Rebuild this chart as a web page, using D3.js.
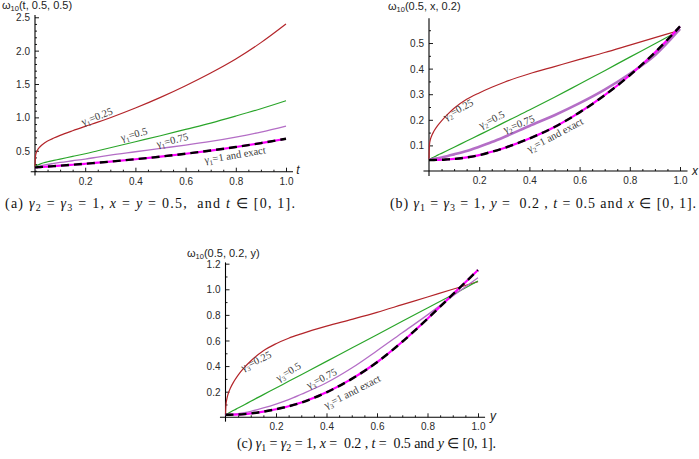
<!DOCTYPE html>
<html><head><meta charset="utf-8">
<script src="https://cdn.jsdelivr.net/npm/d3@7"></script>
<style>body{margin:0;background:#fff}svg{display:block}</style>
</head><body>
<svg id="chart" width="699" height="459"></svg>
<script>
// ---- data ----
const grid = [0, 0.002, 0.005, 0.01, 0.02, 0.035, 0.05, 0.075, 0.1, 0.15, 0.2, 0.25, 0.3, 0.4, 0.5, 0.6, 0.7, 0.8, 0.9, 1.0];

// panel (a): omega10(t, 0.5, 0.5)
const aRed    = [0.25, 0.42, 0.47, 0.51, 0.56, 0.61, 0.645, 0.69, 0.73, 0.80, 0.865, 0.928, 0.995, 1.14, 1.30, 1.475, 1.665, 1.875, 2.12, 2.40];
const aGreen  = [0.25, 0.265, 0.275, 0.285, 0.30, 0.32, 0.335, 0.355, 0.375, 0.415, 0.455, 0.50, 0.545, 0.635, 0.725, 0.82, 0.915, 1.02, 1.13, 1.25];
const aPurple = [0.25, 0.255, 0.26, 0.265, 0.275, 0.285, 0.295, 0.31, 0.325, 0.35, 0.375, 0.405, 0.435, 0.485, 0.535, 0.585, 0.64, 0.705, 0.78, 0.87];
const aExact  = [0.25, 0.2505, 0.251, 0.2525, 0.255, 0.259, 0.263, 0.2695, 0.276, 0.29, 0.305, 0.321, 0.337, 0.373, 0.412, 0.455, 0.503, 0.556, 0.615, 0.68];

// panel (b): omega10(0.5, x, 0.2)
const bRed    = [0.045, 0.104, 0.121, 0.136, 0.156, 0.178, 0.196, 0.222, 0.245, 0.28, 0.305, 0.327, 0.347, 0.38, 0.408, 0.436, 0.463, 0.492, 0.521, 0.55];
const bGreen  = [0.045, 0.046, 0.0475, 0.05, 0.0545, 0.062, 0.069, 0.081, 0.093, 0.117, 0.141, 0.165, 0.19, 0.238, 0.288, 0.34, 0.392, 0.445, 0.497, 0.55];
const bPurple = [0.045, 0.0452, 0.0455, 0.046, 0.048, 0.05, 0.053, 0.059, 0.065, 0.078, 0.095, 0.113, 0.133, 0.176, 0.218, 0.265, 0.318, 0.38, 0.452, 0.555];
const bExact  = [0.043, 0.043, 0.043, 0.043, 0.0432, 0.0436, 0.044, 0.0455, 0.047, 0.053, 0.062, 0.075, 0.09, 0.127, 0.172, 0.229, 0.296, 0.374, 0.463, 0.565];

// panel (c): omega10(0.5, 0.2, y)
const cRed    = [0.02, 0.10, 0.14, 0.18, 0.23, 0.285, 0.33, 0.39, 0.44, 0.52, 0.575, 0.618, 0.652, 0.712, 0.765, 0.82, 0.88, 0.94, 1.0, 1.06];
const cGreen  = [0.02, 0.022, 0.025, 0.03, 0.041, 0.057, 0.072, 0.098, 0.125, 0.177, 0.229, 0.281, 0.333, 0.437, 0.541, 0.645, 0.75, 0.854, 0.958, 1.065];
const cPurple = [0.02, 0.0201, 0.0203, 0.0207, 0.022, 0.025, 0.029, 0.037, 0.047, 0.073, 0.103, 0.138, 0.18, 0.27, 0.385, 0.52, 0.66, 0.8, 0.947, 1.09];
const cExact  = [0.02, 0.02, 0.02, 0.0201, 0.0203, 0.021, 0.022, 0.025, 0.03, 0.044, 0.063, 0.086, 0.115, 0.195, 0.3, 0.43, 0.59, 0.77, 0.96, 1.15];

// tick labels
const xTicks  = [0.2, 0.4, 0.6, 0.8, 1.0];
const aYTicks = [0.5, 1.0, 1.5, 2.0, 2.5];
const bYTicks = [0.1, 0.2, 0.3, 0.4, 0.5];
const cYTicks = [0.2, 0.4, 0.6, 0.8, 1.0, 1.2];

// texts
const aYLabel = ["ω", "10", "(t, 0.5, 0.5)"];
const bYLabel = ["ω", "10", "(0.5, x, 0.2)"];
const cYLabel = ["ω", "10", "(0.5, 0.2, y)"];
const aCurveLabels = [["γ","1","=0.25"],["γ","1","=0.5"],["γ","1","=0.75"],["γ","1","=1 and exact"]];
const bCurveLabels = [["γ","2","=0.25"],["γ","2","=0.5"],["γ","2","=0.75"],["γ","2","=1 and exact"]];
const cCurveLabels = [["γ","3","=0.25"],["γ","3","=0.5"],["γ","3","=0.75"],["γ","3","=1 and exact"]];

// ---- drawing ----
const svg = d3.select("#chart");
const SANS = "Liberation Sans, Arial, sans-serif";
const SERIF = "Liberation Serif, Times New Roman, serif";
const COL = {red: "#b3252a", green: "#2aa52a", purple: "#b46ec6", magenta: "#ff00ff", black: "#000"};

function minorRange(a, b, step, major) {
  return d3.range(Math.round(a / step), Math.round(b / step) + 1)
    .map(k => +(k * step).toFixed(4))
    .filter(v => !major.some(m => Math.abs(m - v) < 1e-6));
}

function panel(p) {
  const g = svg.append("g");
  const x = d3.scaleLinear().domain([0, 1]).range(p.xRange);
  const y = d3.scaleLinear().domain(p.yDomain).range(p.yRange);
  const yc = y(p.yCross), xc = x(0);

  // axis lines
  g.append("line").attr("x1", x(p.xExt[0])).attr("x2", x(p.xExt[1]))
    .attr("y1", yc).attr("y2", yc).attr("stroke", "#000").attr("stroke-width", 1.1);
  g.append("line").attr("x1", xc).attr("x2", xc)
    .attr("y1", y(p.yExt[0])).attr("y2", y(p.yExt[1])).attr("stroke", "#000").attr("stroke-width", 1.1);

  const styleAxis = (sel) => {
    sel.select(".domain").remove();
    sel.selectAll("line").attr("stroke", "#000").attr("stroke-width", 0.9);
    sel.selectAll("text").attr("font-family", SANS).attr("font-size", 10).attr("fill", "#2a2a2a");
  };

  // x axis ticks
  g.append("g").attr("transform", `translate(0,${yc})`)
    .call(d3.axisBottom(x).tickValues(xTicks).tickSize(-4).tickPadding(4.5).tickFormat(d3.format(".1f")))
    .call(styleAxis)
    .call(s => s.selectAll("text").attr("transform", "scale(1,1.12)"));
  g.append("g").attr("transform", `translate(0,${yc})`)
    .call(d3.axisBottom(x).tickValues(minorRange(0.05, 1.0, 0.05, xTicks)).tickSize(-2).tickFormat(""))
    .call(styleAxis);

  // y axis ticks
  g.append("g").attr("transform", `translate(${xc},0)`)
    .call(d3.axisLeft(y).tickValues(p.yTicks).tickSize(-4).tickPadding(5).tickFormat(d3.format(".1f")))
    .call(styleAxis)
    .call(s => s.selectAll("text").attr("transform", "scale(1,1.12)"));
  g.append("g").attr("transform", `translate(${xc},0)`)
    .call(d3.axisLeft(y).tickValues(minorRange(p.yMinor[0], p.yMinor[1], p.yMinor[2], p.yTicks)).tickSize(-2).tickFormat(""))
    .call(styleAxis);

  // curves
  const line = d3.line().x((d, i) => x(grid[i])).y(d => y(d)).curve(d3.curveMonotoneX);
  const draw = (data, color, w, dash) => g.append("path").datum(data).attr("d", line)
    .attr("fill", "none").attr("stroke", color).attr("stroke-width", w)
    .attr("stroke-dasharray", dash || null).attr("stroke-linejoin", "round");
  draw(p.series[0], COL.red, 1.2);
  draw(p.series[1], COL.green, 1.2);
  draw(p.series[2], COL.purple, p.purpleW);
  draw(p.series[3], COL.magenta, 2.2);
  draw(p.series[3], COL.black, 2.4, "8,5");

  // curve labels
  p.labelPos.forEach((lp, i) => {
    const parts = p.curveLabels[i];
    const t = g.append("text")
      .attr("transform", `translate(${lp[0]},${lp[1]}) rotate(${lp[2]})`)
      .attr("text-anchor", "middle").attr("y", 3.5)
      .attr("font-family", SERIF).attr("font-size", 10.5).attr("fill", "#3a3a3a");
    t.append("tspan").text(parts[0]);
    t.append("tspan").attr("font-size", 7).attr("dy", 2.5).text(parts[1]);
    t.append("tspan").attr("dy", -2.5).text(parts[2]);
  });

  // y-axis label (function name)
  const yl = g.append("text").attr("x", p.yLabelPos[0]).attr("y", p.yLabelPos[1])
    .attr("font-family", SANS).attr("font-size", 11).attr("fill", "#222");
  yl.append("tspan").text(p.yLabel[0]);
  yl.append("tspan").attr("font-size", 7.5).attr("dy", 2).text(p.yLabel[1]);
  yl.append("tspan").attr("dy", -2).text(p.yLabel[2]);

  // x-axis variable label
  g.append("text").attr("x", p.xLabelPos[0]).attr("y", p.xLabelPos[1])
    .attr("text-anchor", "middle").attr("font-family", SANS).attr("font-style", "italic")
    .attr("font-size", 12).attr("fill", "#222").text(p.xLabel);
}

panel({
  xRange: [35, 286], yDomain: [0.186, 2.534], yRange: [171.7, 15], yCross: 0.186,
  xExt: [-0.017, 1.028], yExt: [0.13, 2.534],
  yTicks: aYTicks, yMinor: [0.2, 2.5, 0.1],
  series: [aRed, aGreen, aPurple, aExact], purpleW: 1.3,
  curveLabels: aCurveLabels,
  labelPos: [[97, 116.5, -21], [134, 134.3, -15], [172.3, 140.3, -14], [235, 155, -9.5]],
  yLabel: aYLabel, yLabelPos: [2, 8.5], xLabel: "t", xLabelPos: [298, 173.5]
});

panel({
  xRange: [429, 680], yDomain: [0, 0.597], yRange: [171, 18.2], yCross: 0,
  xExt: [-0.022, 1.03], yExt: [-0.02, 0.597],
  yTicks: bYTicks, yMinor: [0.05, 0.55, 0.05],
  series: [bRed, bGreen, bPurple, bExact], purpleW: 2.6,
  curveLabels: bCurveLabels,
  labelPos: [[458.3, 109.5, -29], [491.7, 119.5, -26.5], [519, 124, -21], [555, 135, -28]],
  yLabel: bYLabel, yLabelPos: [388, 9.5], xLabel: "x", xLabelPos: [695, 175]
});

panel({
  xRange: [225.5, 478], yDomain: [0, 1.21], yRange: [417.3, 262.4], yCross: 0,
  xExt: [-0.022, 1.028], yExt: [-0.034, 1.21],
  yTicks: cYTicks, yMinor: [0.1, 1.2, 0.1],
  series: [cRed, cGreen, cPurple, cExact], purpleW: 1.3,
  curveLabels: cCurveLabels,
  labelPos: [[256, 361, -26], [288.3, 371.7, -31], [321.7, 378.3, -27], [352.3, 391.7, -27]],
  yLabel: cYLabel, yLabelPos: [187, 256.5], xLabel: "y", xLabelPos: [493, 420]
});

// ---- captions ----
const capA = [["(a) "], ["γ","i"], ["2","s"], [" = "], ["γ","i"], ["3","s"], [" = 1, "], ["x","i"], [" = "], ["y","i"], [" = 0.5,  and "], ["t","i"], [" ∈ [0, 1]."]];
const capB = [["(b) "], ["γ","i"], ["1","s"], [" = "], ["γ","i"], ["3","s"], [" = 1, "], ["y","i"], [" =  0.2 , "], ["t","i"], [" = 0.5 and "], ["x","i"], [" ∈ [0, 1]."]];
const capC = [["(c) "], ["γ","i"], ["1","s"], [" = "], ["γ","i"], ["2","s"], [" = 1, "], ["x","i"], [" =  0.2 , "], ["t","i"], [" =  0.5 and "], ["y","i"], [" ∈ [0, 1]."]];

function caption(parts, x0, yb, len) {
  const t = svg.append("text").attr("x", x0).attr("y", yb)
    .attr("font-family", SERIF).attr("font-size", 14).attr("fill", "#111")
    .attr("textLength", len).attr("lengthAdjust", "spacing")
    .style("white-space", "pre").attr("xml:space", "preserve");
  let shifted = false;
  parts.forEach(([s, m]) => {
    const ts = t.append("tspan").text(s);
    if (m === "i") ts.attr("font-style", "italic");
    if (m === "s") { ts.attr("font-size", 10).attr("dy", 3); shifted = true; }
    else if (shifted) { ts.attr("dy", -3); shifted = false; }
  });
}
caption(capA, 5, 208, 290);
caption(capB, 390, 208, 306);
caption(capC, 237, 447.5, 259);
</script>
</body></html>
